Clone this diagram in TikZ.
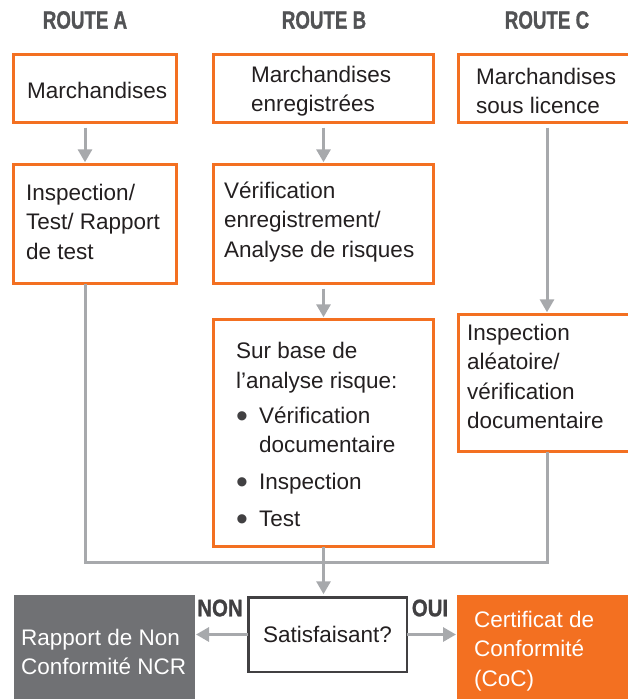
\documentclass[tikz,border=0pt]{standalone}
\usepackage{fontspec}
\setmainfont{Liberation Sans}
\newfontfamily\hdrfont[BoldFeatures={FakeBold=1.2}]{Liberation Sans}
\usetikzlibrary{arrows.meta}
\definecolor{org}{HTML}{F37021}
\definecolor{arrg}{HTML}{A7A9AC}
\definecolor{boxg}{HTML}{707174}
\definecolor{txt}{HTML}{231F20}
\definecolor{hdr}{HTML}{525355}
\definecolor{dk}{HTML}{414042}
\newcommand{\bul}{\makebox[23pt][l]{\raisebox{-4pt}{\textcolor{dk}{\scalebox{1.5}{•}}}}}
\begin{document}
\begin{tikzpicture}[x=1pt,y=-1pt,
  obox/.style n args={2}{draw=org,line width=2.6pt,minimum width=#1,minimum height=#2,inner sep=0pt,outer sep=0pt},
  fbox/.style n args={3}{fill=#1,draw=none,minimum width=#2,minimum height=#3,inner sep=0pt,outer sep=0pt},
  body/.style={font=\fontsize{22.5}{29.5}\selectfont,text=txt,inner sep=0pt,align=left,anchor=west,yshift=-1.5pt},
  wbody/.style={body,text=white},
  head/.style={font=\hdrfont\bfseries\fontsize{25}{25}\selectfont,text=hdr,inner sep=0pt},
  yn/.style={font=\hdrfont\bfseries\fontsize{24}{24}\selectfont,text=dk,inner sep=0pt},
  arr/.style={draw=arrg,line width=3pt,-{Triangle[width=14pt,length=13pt]}},
  gline/.style={draw=arrg,line width=3pt}]
\useasboundingbox (0,0) rectangle (627,699);
% column coordinates
\coordinate (colA) at (85,0);
\coordinate (colC) at (547,0);
\coordinate (mrg) at (323,562);
% headers
\node[head] (ha) at (85,20) {\scalebox{0.75}[1]{ROUTE A}};
\node[head] (hb) at (324,20) {\scalebox{0.75}[1]{ROUTE B}};
\node[head] (hc) at (547,20) {\scalebox{0.75}[1]{ROUTE C}};
% boxes
\node[obox={163.4pt}{68.4pt}] (a1) at (95,88.5) {};
\node[obox={220.4pt}{68.4pt}] (b1) at (323.5,88.5) {};
\node[obox={185.4pt}{68.4pt}] (c1) at (551,88.5) {};
\node[obox={163.4pt}{119.4pt}] (a2) at (95,224) {};
\node[obox={220.4pt}{119.4pt}] (b2) at (323.5,224) {};
\node[obox={220.4pt}{227.4pt}] (b3) at (323.5,433) {};
\node[obox={185.4pt}{137.4pt}] (c3) at (551,383) {};
\node[fbox={boxg}{181pt}{120pt}] (ncr) at (104.5,655) {};
\node[fbox={org}{188pt}{120pt}] (coc) at (551,655) {};
\node[draw=dk,line width=2.5pt,minimum width=158.5pt,minimum height=74.5pt,inner sep=0pt,outer sep=0pt,
      font=\fontsize{22.5}{29.5}\selectfont,text=txt] (sat) at (327.5,634.5) {Satisfaisant?};
% texts
\node[body] (a1t) at (27,89) {Marchandises};
\node[body] (b1t) at (251,89.5) {Marchandises\\enregistrées};
\node[body] (c1t) at (476,89.5) {Marchandises\\sous licence};
\node[body] (a2t) at (26,220) {Inspection/\\Test/ Rapport\\de test};
\node[body] (b2t) at (224,220.5) {Vérification\\enregistrement/\\Analyse de risques};
\node[body] (b3t) at (236,435) {Sur base de\\l’analyse risque:\\[5.5pt]
  \bul Vérification\\
  \hspace*{23pt}documentaire\\[7.5pt]
  \bul Inspection\\[7.5pt]
  \bul Test};
\node[body] (c3t) at (467,375) {Inspection\\aléatoire/\\vérification\\documentaire};
\node[wbody] (ncrt) at (21,650.5) {Rapport de Non\\Conformité NCR};
\node[wbody] (coct) at (474,649.5) {Certificat de\\Conformité\\(CoC)};
\node[yn] (non) at (220,608) {\scalebox{0.85}[1]{NON}};
\node[yn] (oui) at (430,608) {\scalebox{0.85}[1]{OUI}};
% connectors
\draw[arr,shorten <=5pt,shorten >=2pt] (a1.south -| colA) -- (a2.north -| colA);
\draw[arr,shorten <=5pt,shorten >=2pt] (b1.south) -- (b2.north);
\draw[arr,shorten <=5pt,shorten >=2pt] (b2.south) -- (b3.north);
\draw[arr,shorten <=5pt,shorten >=2pt] (c1.south -| colC) -- (c3.north -| colC);
\draw[gline] (a2.south -| colA) -- (colA |- mrg) -- (colC |- mrg) -- (c3.south -| colC);
\draw[arr,shorten >=3pt] (b3.south) -- (b3.south |- sat.north);
\draw[arr,shorten >=1pt] (sat.west) -- (sat.west -| ncr.east);
\draw[arr,shorten >=1pt] (sat.east) -- (sat.east -| coc.west);
\end{tikzpicture}
\end{document}
